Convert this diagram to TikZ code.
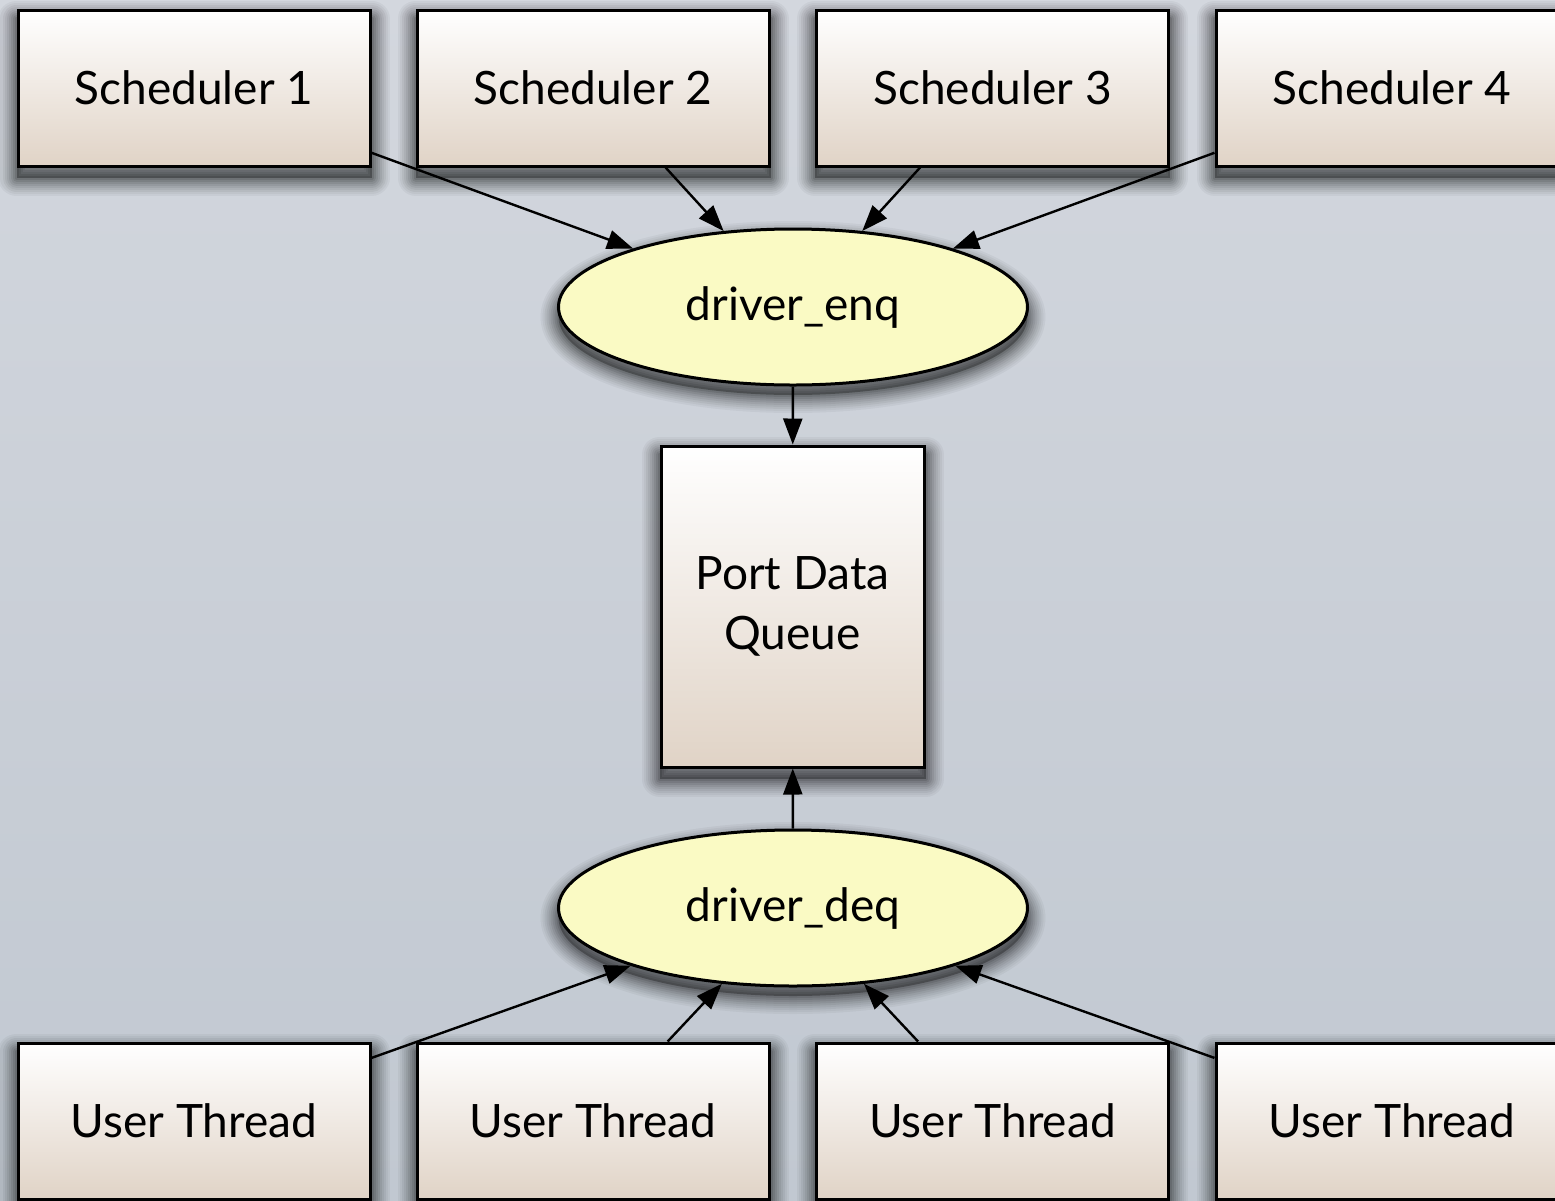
\documentclass[tikz,border=0pt]{standalone}
\usepackage{fontspec}
\setmainfont{Lato}
\usetikzlibrary{arrows.meta,shapes.geometric}

\pgfdeclarelayer{backdrop}
\pgfdeclarelayer{shadows}
\pgfsetlayers{backdrop,shadows,main}

\definecolor{bgtop}{RGB}{211,215,222}
\definecolor{bgbottom}{RGB}{193,200,209}
\definecolor{boxtan}{RGB}{224,211,198}
\definecolor{ovalyellow}{RGB}{250,250,196}

\tikzset{
  procbox/.style={rectangle, draw=black, line width=1.5pt,
      top color=white, bottom color=boxtan,
      minimum width=176pt, minimum height=78pt, inner sep=0pt,
      font=\fontsize{23}{28}\selectfont},
  queuebox/.style={procbox, minimum width=131.5pt, minimum height=160.5pt,
      align=center, font=\fontsize{23}{30}\selectfont},
  oval/.style={ellipse, draw=black, line width=1.5pt, fill=ovalyellow,
      minimum width=234.5pt, minimum height=78pt, inner sep=0pt,
      font=\fontsize{23}{28}\selectfont},
  flow/.style={-{Triangle[length=13pt,width=9.5pt]}, line width=1.2pt, draw=black},
  shadowscope/.style={transform canvas={yshift=-5pt}, line join=round}
}

% soft shadow under a path: stacked translucent strokes plus a core fill
\newcommand\castshadow[1]{%
  \begin{scope}[shadowscope]
    \foreach \w/\o in {18/0.04, 16/0.04, 14/0.05, 12/0.05, 10/0.06, 8/0.07, 6/0.08, 4/0.09, 2/0.1}{%
      \draw[black, line width=\w pt, draw opacity=\o] #1;}
    \fill[black, fill opacity=0.3] #1;
  \end{scope}}
\newcommand\boxshadow[1]{\castshadow{(#1.south west) rectangle (#1.north east)}}
\newcommand\ovalshadow[1]{\castshadow{(#1.center) ellipse [x radius=117.25pt, y radius=39pt]}}

\begin{document}
\begin{tikzpicture}[x=0.5pt,y=-0.5pt]
  \useasboundingbox (0,0) rectangle (1555,1201);

  % schedulers
  \node[procbox] (s1) at (194,88)   {Scheduler 1};
  \node[procbox] (s2) at (593,88)   {Scheduler 2};
  \node[procbox] (s3) at (992.5,88) {Scheduler 3};
  \node[procbox] (s4) at (1392,88)  {Scheduler 4};

  % driver entry points and queue
  \node[oval] (enq) at (793,307) {driver\_enq};
  \node[queuebox] (q) at (792.5,606.5) {Port Data\\Queue};
  \node[oval] (deq) at (793,908) {driver\_deq};

  % user threads
  \node[procbox] (u1) at (194,1121)   {User Thread};
  \node[procbox] (u2) at (593,1121)   {User Thread};
  \node[procbox] (u3) at (992.5,1121) {User Thread};
  \node[procbox] (u4) at (1392,1121)  {User Thread};

  % connectors
  \draw[flow] (s1) -- (enq);
  \draw[flow] (s2) -- (enq);
  \draw[flow] (s3) -- (enq);
  \draw[flow] (s4) -- (enq);
  \draw[flow] (enq) -- (q);
  \draw[flow] (deq) -- (q);
  \draw[flow] (u1) -- (deq);
  \draw[flow] (u2) -- (deq);
  \draw[flow] (u3) -- (deq);
  \draw[flow] (u4) -- (deq);

  % shadows beneath the shapes
  \begin{pgfonlayer}{shadows}
    \foreach \n in {s1,s2,s3,s4,q,u1,u2,u3,u4}{\boxshadow{\n}}
    \ovalshadow{enq}
    \ovalshadow{deq}
  \end{pgfonlayer}

  % canvas
  \begin{pgfonlayer}{backdrop}
    \shade[top color=bgtop, bottom color=bgbottom] (0,0) rectangle (1555,1201);
  \end{pgfonlayer}
\end{tikzpicture}
\end{document}
